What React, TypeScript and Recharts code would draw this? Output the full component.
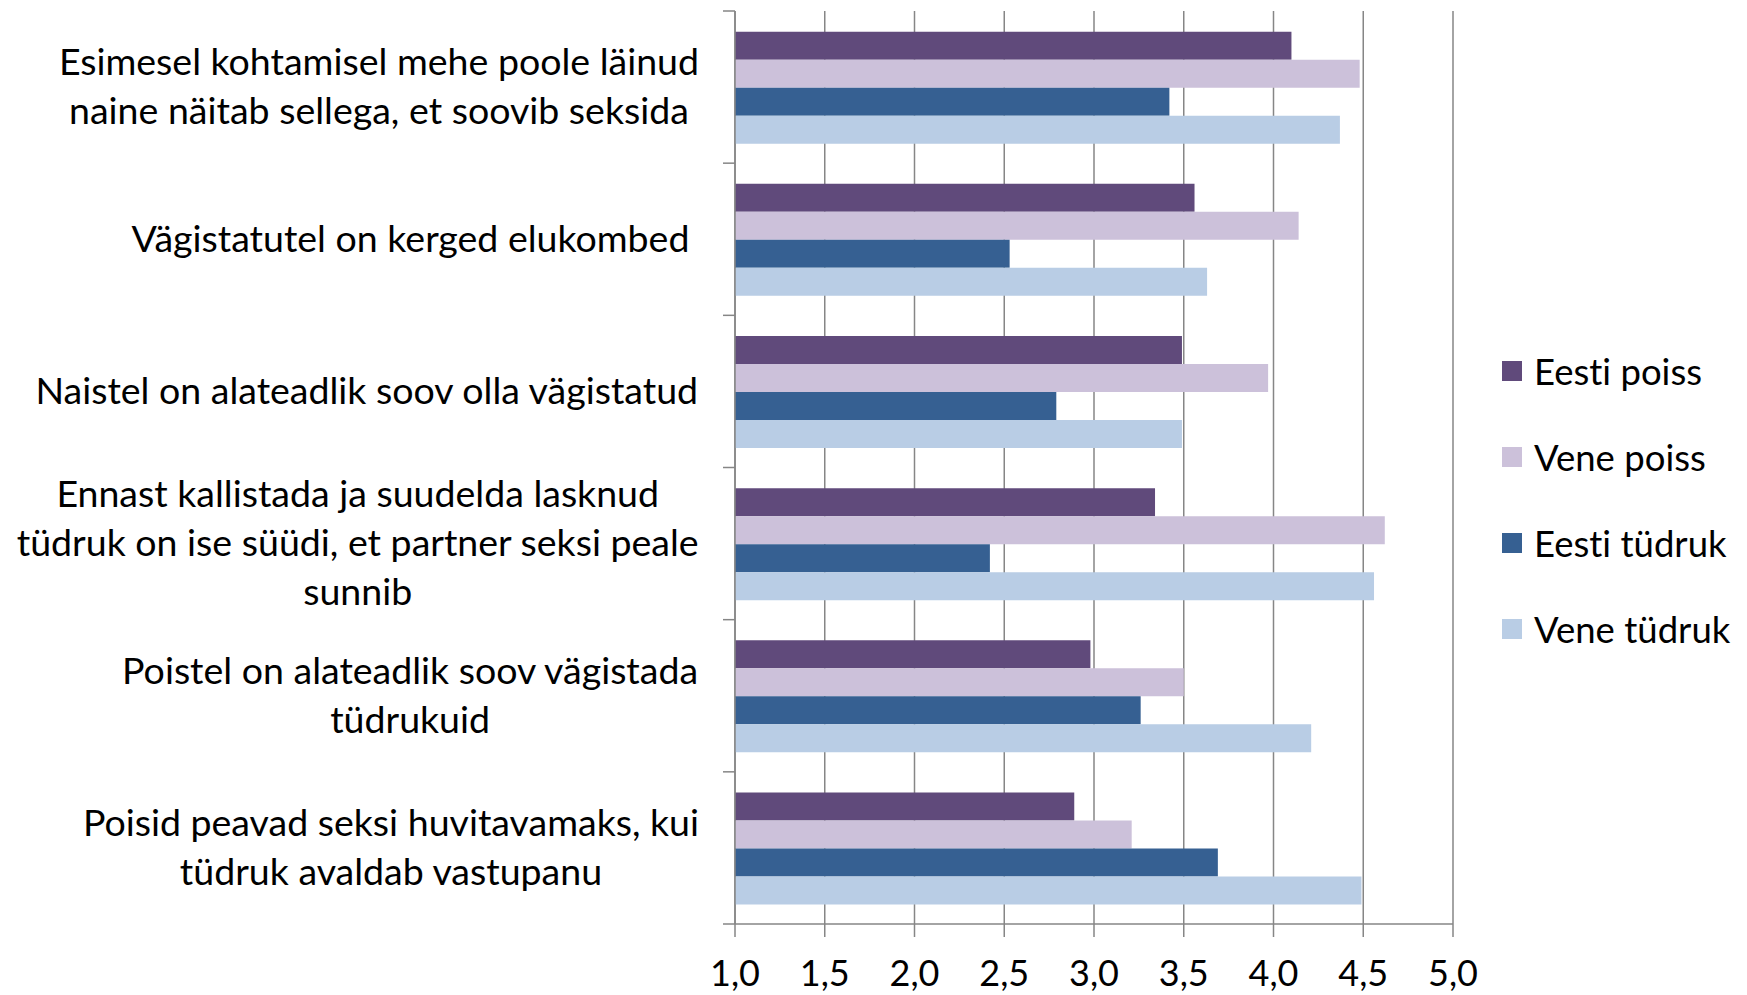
import React from 'react';
import { BarChart, Bar, XAxis, YAxis, CartesianGrid } from 'recharts';

// Statements (line breaks as in the original wrapped labels)
const categories = [
  'Esimesel kohtamisel mehe poole läinud\nnaine näitab sellega, et soovib seksida',
  'Vägistatutel on kerged elukombed ',
  'Naistel on alateadlik soov olla vägistatud',
  'Ennast kallistada ja suudelda lasknud\ntüdruk on ise süüdi, et partner seksi peale\nsunnib',
  'Poistel on alateadlik soov vägistada\ntüdrukuid',
  'Poisid peavad seksi huvitavamaks, kui\ntüdruk avaldab vastupanu',
];

const seriesNames = ['Eesti poiss', 'Vene poiss', 'Eesti tüdruk', 'Vene tüdruk'];
const seriesColors = ['#604A7B', '#CCC1DA', '#366092', '#B9CDE5'];

const eestiPoiss = [4.10, 3.56, 3.49, 3.34, 2.98, 2.89];
const venePoiss = [4.48, 4.14, 3.97, 4.62, 3.50, 3.21];
const eestiTudruk = [3.42, 2.53, 2.79, 2.42, 3.26, 3.69];
const veneTudruk = [4.37, 3.63, 3.49, 4.56, 4.21, 4.49];

const xTicks = [1, 1.5, 2, 2.5, 3, 3.5, 4, 4.5, 5];

const data = categories.map((name, i) => ({
  name,
  s0: eestiPoiss[i],
  s1: venePoiss[i],
  s2: eestiTudruk[i],
  s3: veneTudruk[i],
}));

// layout
const W = 1747;
const H = 995;
const AXIS_X = 735;
const PLOT_TOP = 11;
const PLOT_BOTTOM = 924;
const PLOT_RIGHT = 1453;
const X_AXIS_H = 50;
const BAND = (PLOT_BOTTOM - PLOT_TOP) / categories.length;
const GRID = '#868686';
const FONT = 'Lato, "Open Sans", sans-serif';
const LABEL_SIZE = 37.5;
const LINE_H = 49;

let measureCtx: CanvasRenderingContext2D | null = null;
const textWidth = (s: string, size: number) => {
  if (!measureCtx) measureCtx = document.createElement('canvas').getContext('2d');
  if (!measureCtx) return s.length * size * 0.5;
  measureCtx.font = `${size}px Lato`;
  return measureCtx.measureText(s).width;
};

const CategoryTick = (props: any) => {
  const { y, payload, index } = props;
  const lines: string[] = String(payload.value).split('\n');
  const boxW = Math.max(...lines.map(l => textWidth(l, LABEL_SIZE)));
  const right = AXIS_X - 36;
  const cx = right - boxW / 2;
  const firstY = y - 2 - ((lines.length - 1) * LINE_H) / 2;
  return (
    <g>
      <line x1={AXIS_X - 12} x2={AXIS_X} y1={y - BAND / 2} y2={y - BAND / 2} stroke={GRID} strokeWidth={1.5} />
      {index === categories.length - 1 && (
        <line x1={AXIS_X - 12} x2={AXIS_X} y1={y + BAND / 2} y2={y + BAND / 2} stroke={GRID} strokeWidth={1.5} />
      )}
      {lines.map((l, i) => (
        <text
          key={i}
          x={cx}
          y={firstY + i * LINE_H}
          textAnchor="middle"
          dominantBaseline="central"
          fontSize={LABEL_SIZE}
          fontFamily={FONT}
          fill="#000"
          style={{ whiteSpace: 'pre', fontVariantLigatures: 'none' }}
        >
          {l}
        </text>
      ))}
    </g>
  );
};

export default function App() {
  return (
    <div style={{ position: 'absolute', left: 0, top: 0, width: W, height: H, background: '#fff' }}>
      <BarChart
        width={W}
        height={H}
        data={data}
        layout="vertical"
        margin={{ top: PLOT_TOP, right: W - PLOT_RIGHT, bottom: H - PLOT_BOTTOM - X_AXIS_H, left: 0 }}
        barCategoryGap="13.6%"
        barGap={0}
        style={{ fontFamily: FONT }}
      >
        <CartesianGrid horizontal={false} stroke={GRID} strokeWidth={1.5} verticalValues={xTicks} />
        <XAxis
          type="number"
          domain={[1, 5]}
          ticks={xTicks}
          height={X_AXIS_H}
          tickFormatter={(v: number) => v.toFixed(1).replace('.', ',')}
          axisLine={{ stroke: GRID, strokeWidth: 1.5 }}
          tickLine={{ stroke: GRID, strokeWidth: 1.5 }}
          tickSize={13}
          tickMargin={23}
          tick={{ fill: '#000', fontSize: 36, fontFamily: FONT }}
          interval={0}
          allowDataOverflow
        />
        <YAxis
          type="category"
          dataKey="name"
          width={AXIS_X}
          axisLine={{ stroke: GRID, strokeWidth: 1.5 }}
          tickLine={false}
          tick={(p: any) => <CategoryTick {...p} />}
          interval={0}
        />
        {['s0', 's1', 's2', 's3'].map((k, i) => (
          <Bar key={k} dataKey={k} name={seriesNames[i]} fill={seriesColors[i]} isAnimationActive={false} />
        ))}
      </BarChart>
      <div
        style={{
          position: 'absolute',
          left: 1502,
          top: 328,
          fontFamily: FONT,
          fontSize: 36.5,
          fontVariantLigatures: 'none',
        }}
      >
        {seriesNames.map((n, i) => (
          <div key={n} style={{ display: 'flex', alignItems: 'center', height: 86 }}>
            <div style={{ width: 20, height: 20, background: seriesColors[i], marginRight: 12 }} />
            <span>{n}</span>
          </div>
        ))}
      </div>
    </div>
  );
}
